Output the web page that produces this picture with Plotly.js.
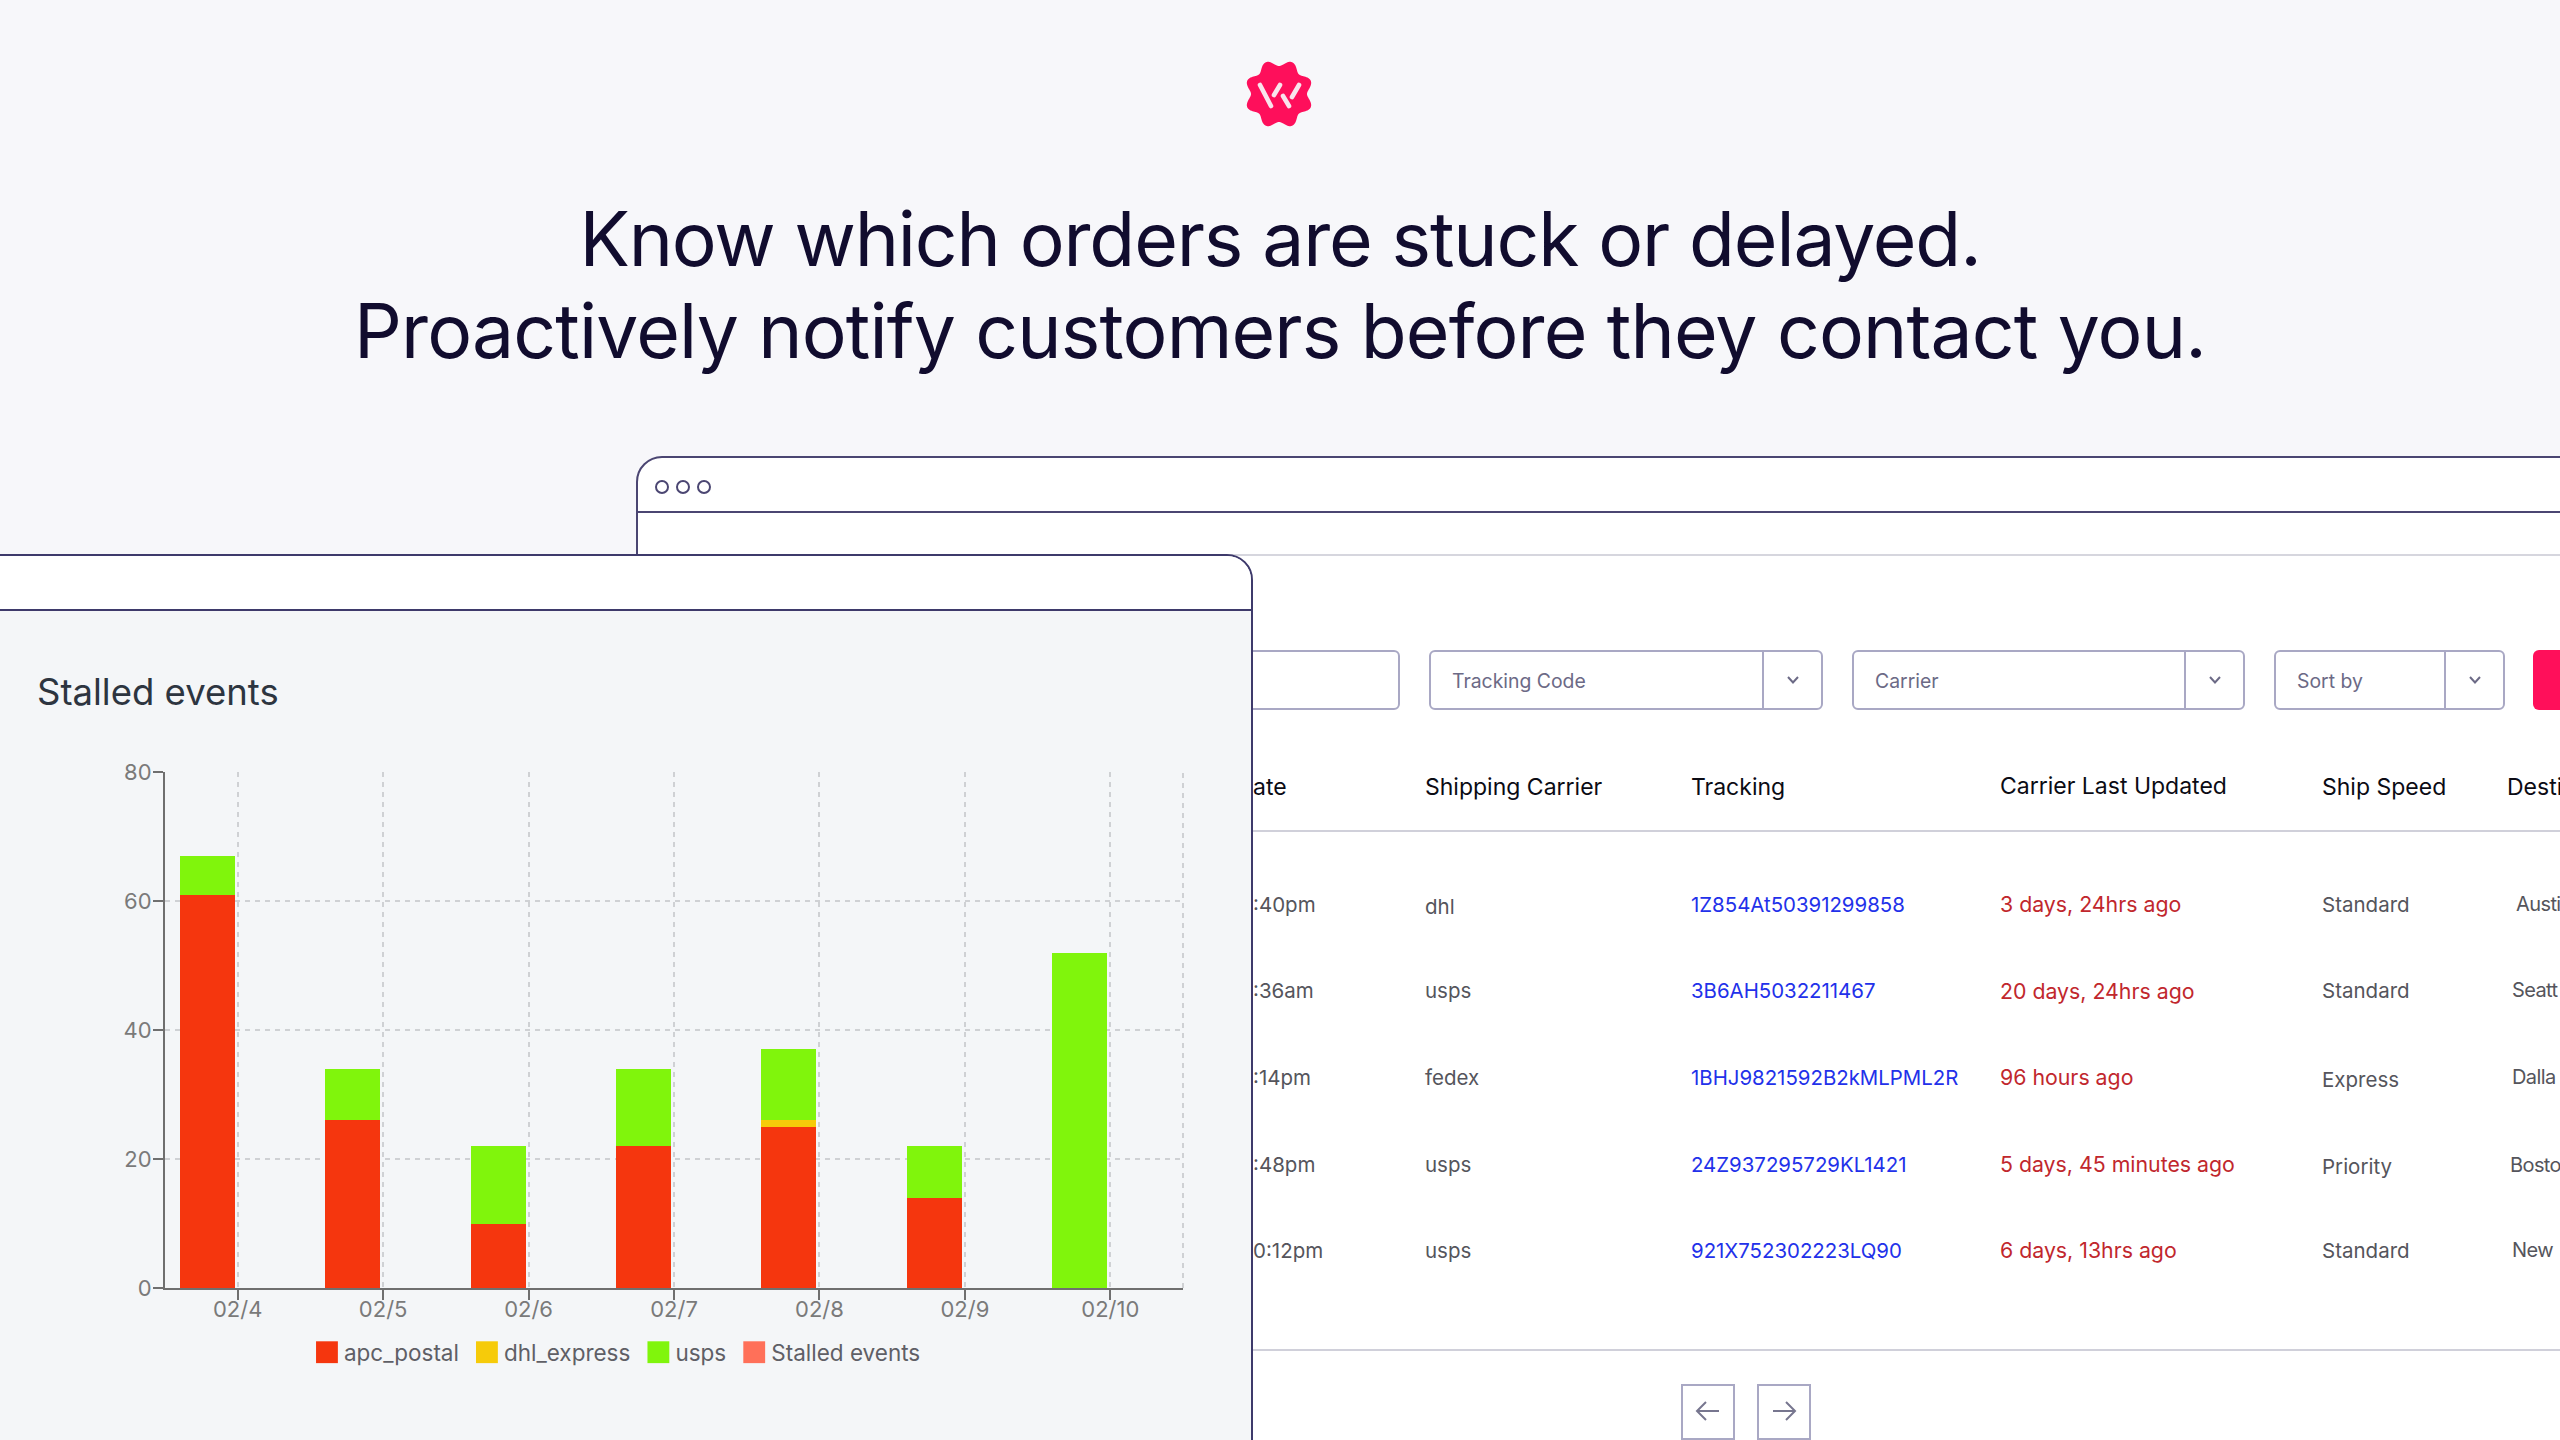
<!DOCTYPE html>
<html><head><meta charset="utf-8">
<script src="https://cdn.plot.ly/plotly-3.0.1.min.js"></script>
<style>
html,body{margin:0;padding:0;width:2560px;height:1440px;overflow:hidden;background:#f7f7fa;font-family:Inter,sans-serif}
.abs{position:absolute;box-sizing:border-box}
h1{position:absolute;left:0;top:0;width:2560px;margin:0;text-align:center;font-weight:400;font-size:75px;line-height:92px;color:#110c2e;padding-top:193px;letter-spacing:-0.85px}
h1 span{letter-spacing:-1.15px}
#main{left:636px;top:456px;width:1930px;height:990px;background:#fff;border:2px solid #4b4672;border-radius:26px 0 0 0;overflow:hidden}
.t{position:absolute;white-space:nowrap;transform:translateY(-50%)}
.head{font-size:23px;color:#0b0b14}
.cell{font-size:20.5px;color:#55555c}
.dest{font-size:20px;letter-spacing:-.6px;color:#55555c}
.link{font-size:20.4px;color:#2231ea}
.late{font-size:21.3px;color:#c1272d}
.ctl{font-size:19.4px;color:#6c6a86}
.box{position:absolute;box-sizing:border-box;border:2px solid #a9a8c4;border-radius:6px;background:#fff}
.rule{position:absolute;height:2px;background:#d0d0da}
#panel{left:-4px;top:554px;width:1257px;height:890px;background:#f4f6f8;border:2px solid #3e3a6b;border-radius:0 26px 0 0;overflow:hidden}
#panelhead{position:absolute;left:0;top:0;width:100%;height:55px;box-sizing:border-box;background:#fff;border-bottom:2px solid #3e3a6b}
#chart{position:absolute;left:2px;top:55px;width:1250px;height:831px}
.legendpoints path{transform:translateX(23px) scale(1.82)}
</style></head><body>
<svg class="abs" style="left:1240px;top:55px" width="80" height="80" viewBox="0 0 80 80" id="logo"></svg>
<h1><span>Know which orders are stuck or delayed.</span><br>Proactively notify customers before they contact you.</h1>
<div class="abs" id="main"></div>
<div class="abs" id="panel"><div id="panelhead"></div><div id="chart"></div></div>
<script>
// ---- chart data ----
const categories = ['02/4','02/5','02/6','02/7','02/8','02/9','02/10'];
const apc_postal = [61,26,10,22,25,14,0];
const dhl_express = [0,0,0,0,1,0,0];
const usps = [6,8,12,12,11,8,52];
const stalled_events = [null,null,null,null,null,null,null];
const yTicks = [0,20,40,60,80];
const chartTitle = 'Stalled events';
// ---- table content ----
const headers = ['ate','Shipping Carrier','Tracking','Carrier Last Updated','Ship Speed','Desti'];
const times = [':40pm',':36am',':14pm',':48pm','0:12pm'];
const carriers = ['dhl','usps','fedex','usps','usps'];
const trackings = ['1Z854At50391299858','3B6AH5032211467','1BHJ9821592B2kMLPML2R','24Z937295729KL1421','921X752302223LQ90'];
const updated = ['3 days, 24hrs ago','20 days, 24hrs ago','96 hours ago','5 days, 45 minutes ago','6 days, 13hrs ago'];
const speeds = ['Standard','Standard','Express','Priority','Standard'];
const dests = ['Austi','Seatt','Dalla','Bosto','New'];
const filters = ['Tracking Code','Carrier','Sort by'];

// ---- page chrome (main window) ----
const main = document.getElementById('main');
const OX = 638, OY = 458;
function box(x0,y0,x1,y1,extra){const d=document.createElement('div');d.className='box';
  d.style.cssText=`left:${x0-OX}px;top:${y0-OY}px;width:${x1-x0}px;height:${y1-y0}px;`+(extra||'');main.appendChild(d);return d;}
function rule(x0,x1,y,color){const d=document.createElement('div');d.className='rule';
  d.style.cssText=`left:${x0-OX}px;top:${y-OY}px;width:${x1-x0}px;`+(color?`background:${color};`:'');main.appendChild(d);}
function text(s,x,y,cls){const d=document.createElement('div');d.className='t '+cls;d.textContent=s;
  d.style.top=(y-OY)+'px';d.style.left=(x-OX)+'px';main.appendChild(d);}
// header bar
rule(636,2560,511,'#4b4672');
rule(636,2560,554,'#d6d6de');
[662,683,704].forEach(cx=>{const c=document.createElement('div');c.style.cssText=`position:absolute;box-sizing:border-box;left:${cx-7-OX}px;top:${487-7-OY}px;width:14px;height:14px;border:2px solid #4b4672;border-radius:50%`;main.appendChild(c);});
// filter controls
box(1200,650,1400,710);
const filterBoxes=[[1429,1823,1762],[1852,2245,2184],[2274,2505,2444]];
filterBoxes.forEach((b,i)=>{
  box(b[0],650,b[1],710);
  box(b[2],650,b[2]+2,710,'border-width:0 0 0 2px;border-radius:0;');
  text(filters[i],b[0]+23,681,'ctl');
  const s=document.createElementNS('http://www.w3.org/2000/svg','svg');
  s.setAttribute('width','16');s.setAttribute('height','12');
  s.style.cssText=`position:absolute;left:${(b[2]+b[1])/2-8-OX}px;top:${674-OY}px`;
  s.innerHTML='<path d="M3 3 L8 8.5 L13 3" fill="none" stroke="#6c6a86" stroke-width="2"/>';
  main.appendChild(s);
});
box(2533,650,2600,710,'background:#ff0f5a;border:0;');
// table
const headX=[1253,1425,1691,2000,2322,2507];
const headY=[787,787,787,786,787,787];
headers.forEach((h,i)=>text(h,headX[i],headY[i],'head'));
rule(1252,2560,830);
const rowY=[904,990,1077,1164,1250];
rowY.forEach((y,r)=>{
  text(times[r],1253,y,'cell');
  text(carriers[r],1425,y+(r==0?2:0),'cell');
  text(trackings[r],1691,y,'link');
  text(updated[r],2000,y+(r==1?1:0),'late');
  text(speeds[r],2322,y+(r==2||r==3?2:0),'cell');
  text(dests[r],[2516,2512,2512,2510,2512][r],y+(r==3?1:0),'dest');
});
rule(1252,2560,1349);
[[1681,1735,'M38 27H16M25 18L16 27L25 36'],[1757,1811,'M16 27H38M29 18L38 27L29 36']].forEach(b=>{
  const d=box(b[0],1384,b[1],1440,'border-radius:0;');
  d.innerHTML=`<svg width="54" height="54" style="position:absolute;left:-2px;top:-2px"><path d="${b[2]}" fill="none" stroke="#77768f" stroke-width="2"/></svg>`;
});

// ---- logo ----
(function(){
  let d='';const N=240;
  for(let i=0;i<=N;i++){const a=i/N*2*Math.PI;const r=31.2-3.2*Math.cos(8*a);
    d+=(i?'L':'M')+(39+r*Math.cos(a)).toFixed(2)+' '+(39+r*Math.sin(a)).toFixed(2);}
  const logo=document.getElementById('logo');
  logo.innerHTML=`<path d="${d}Z" fill="#fe0f5b"/>`+
   '<g stroke="#f9e4ec" stroke-width="4.6" stroke-linecap="round" fill="none">'+
   '<path d="M20 30L31 51M40 30L34 40M43 41L49 51M59 30L52 42"/></g>';
})();

// ---- chart ----
const barOffset=-0.399, barWidth=0.378;
function series(name,y,color){return {type:'bar',name:name,x:categories,y:y,offset:barOffset,width:barWidth,
  marker:{color:color,line:{width:0}},hoverinfo:'skip'};}
const traces=[
  series('apc_postal',apc_postal,'#f5360e'),
  series('dhl_express',dhl_express,'#f6cb0a'),
  series('usps',usps,'#80f50c'),
  series('Stalled events',stalled_events,'#ff7059')
];
const axisColor='#6f6f6f', gridColor='#cfd1d4', tickFont={family:'Inter, sans-serif',size:22,color:'#7a7a7a'};
const layout={
  width:1250,height:831,autosize:false,
  paper_bgcolor:'#f4f6f8',plot_bgcolor:'#f4f6f8',
  margin:{l:165,r:67,t:160.6,b:153.5,pad:0},
  barmode:'stack',showlegend:true,
  font:{family:'Inter, sans-serif'},
  title:{text:chartTitle,font:{family:'Inter, sans-serif',size:36.5,color:'#2d3540'},
    x:37/1250,xanchor:'left',xref:'container',y:1-81/831,yanchor:'middle',yref:'container',pad:{t:0,b:0,l:0,r:0}},
  xaxis:{type:'category',categoryorder:'array',categoryarray:categories,range:[-0.5,6.5],
    showgrid:true,gridcolor:gridColor,griddash:'5px,5px',gridwidth:2,
    showline:true,linecolor:axisColor,linewidth:2,ticklabelstandoff:-9,
    ticks:'outside',ticklen:10,tickwidth:2,tickcolor:axisColor,tickfont:tickFont,zeroline:false,fixedrange:true},
  yaxis:{range:[0,80],tickmode:'array',tickvals:yTicks,ticktext:yTicks.map(String),
    showgrid:true,gridcolor:gridColor,griddash:'5px,5px',gridwidth:2,ticklabelstandoff:-3,
    showline:true,linecolor:axisColor,linewidth:2,
    ticks:'outside',ticklen:10,tickwidth:2,tickcolor:axisColor,tickfont:tickFont,zeroline:false,fixedrange:true},
  legend:{orientation:'h',x:0.1365,xanchor:'left',y:-0.0835,yanchor:'top',xref:'paper',yref:'paper',
    traceorder:'normal',itemclick:false,itemdoubleclick:false,bgcolor:'rgba(0,0,0,0)',
    font:{family:'Inter, sans-serif',size:22.5,color:'#5f5f66'}},
  shapes:[{type:'line',xref:'paper',yref:'paper',x0:1,x1:1,y0:0,y1:1,layer:'below',
    line:{color:gridColor,width:2,dash:'5px,5px'}}]
};
Plotly.newPlot('chart',traces,layout,{staticPlot:true,displayModeBar:false});
</script>
</body></html>
